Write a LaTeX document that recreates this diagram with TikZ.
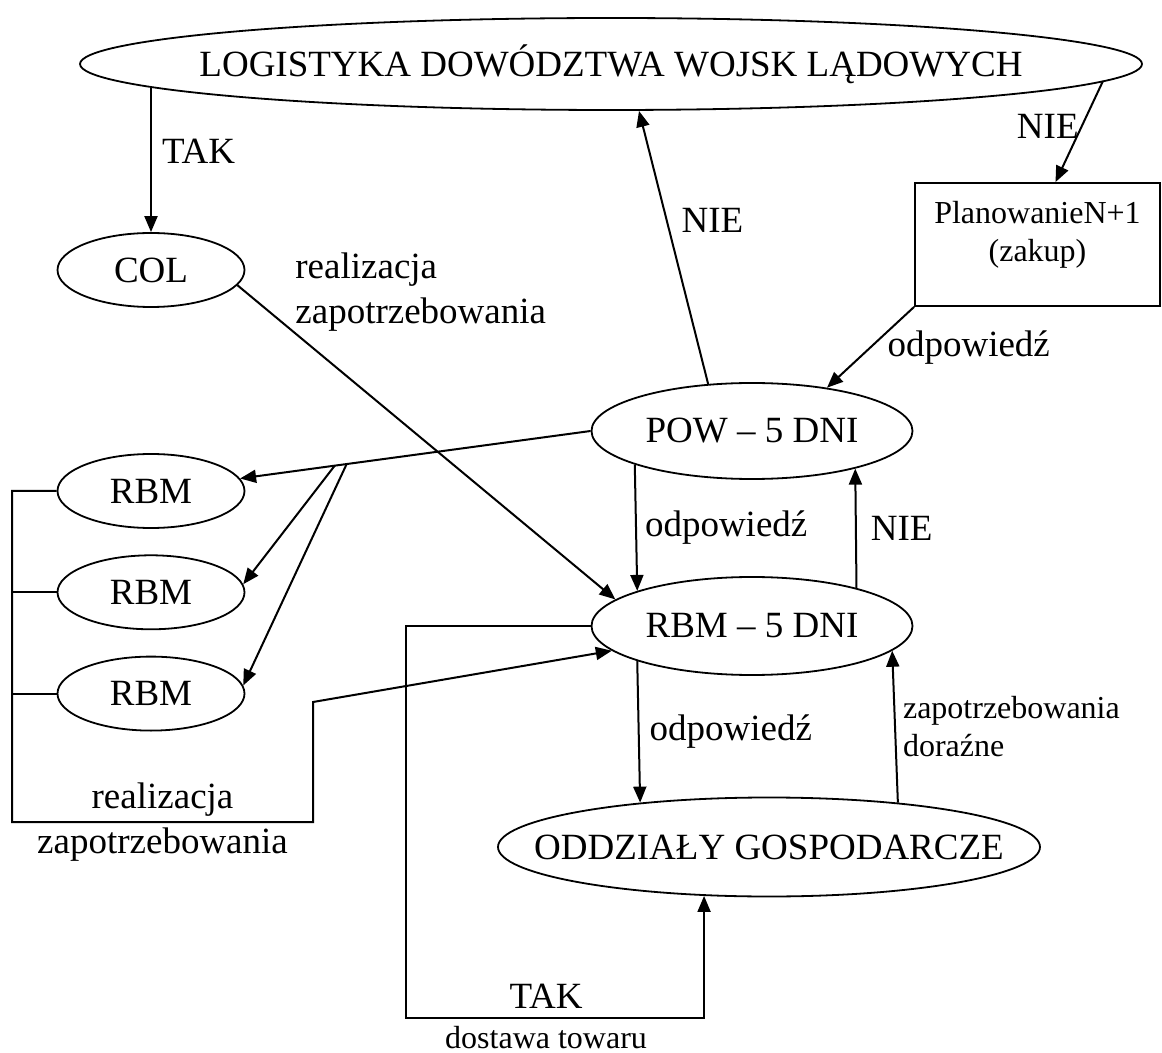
\documentclass[tikz,border=0pt]{standalone}
\usepackage{fontspec}
\setmainfont{Liberation Serif}
\usepackage{tikz}
\usetikzlibrary{arrows.meta,shapes.geometric,positioning,calc}
\newcommand\bigtxt{\fontsize{18.5}{22.5}\selectfont}
\newcommand\smalltxt{\fontsize{16}{19}\selectfont}
\tikzset{
  fl ellipse/.style={
    ellipse,
    draw,
    line width=0.9pt,
    inner sep=0pt,
    minimum width=93.5pt,
    minimum height=37pt,
    font=\bigtxt,
  },
  fl wide/.style={fl ellipse, inner xsep=-30pt},
  fl box/.style={
    rectangle,
    draw,
    line width=0.9pt,
    inner sep=0pt,
    minimum width=122.5pt,
    minimum height=61.5pt,
  },
  fl arrow/.style={-{Triangle[length=8pt,width=6.5pt]}, line width=1pt},
  fl line/.style={line width=1pt},
  fl text/.style={font=\bigtxt, inner sep=0pt},
  fl note/.style={font=\smalltxt, inner sep=0pt},
}

\begin{document}
\begin{tikzpicture}[x=0.5pt, y=-0.5pt]
  \useasboundingbox (0,0) rectangle (1162,1053);

  \node[fl wide, minimum width=531pt, minimum height=46pt] (top) at (611,64) {LOGISTYKA DOWÓDZTWA WOJSK LĄDOWYCH};
  \node[fl ellipse] (col) at (151,270) {COL};
  \node[fl ellipse] (rbmA) at (151,491) {RBM};
  \node[fl ellipse, below=12.75pt of rbmA] (rbmB) {RBM};
  \node[fl ellipse, below=12.75pt of rbmB] (rbmC) {RBM};
  \node[fl ellipse, minimum width=160.5pt, minimum height=48pt] (pow) at (752,431) {POW – 5 DNI};
  \node[fl ellipse, minimum width=160.5pt, minimum height=49pt] (rbm5) at (752,626) {RBM – 5 DNI};
  \node[fl wide, minimum width=271pt, minimum height=49.5pt] (oddz) at (769,847) {ODDZIAŁY GOSPODARCZE};
  \node[fl box, label={[fl note, align=center, yshift=5pt]center:PlanowanieN+1\\(zakup)}] (plan) at (1037.5,244.5) {};

  \coordinate (busL) at (12,822);
  \coordinate (busK) at (313,702);
  \coordinate (loopc) at (406,1018);
  % points on the rim of the wide top ellipse
  \coordinate (topL) at ($(top.center)+(-460,23)$);
  \coordinate (topR) at ($(top.center)+(492,17)$);

  % from the top
  \draw[fl arrow] (topL) -- node[fl text, pos=0.44, right=5pt] {TAK} (col.north);
  \draw[fl arrow] (topR) -- node[fl text, pos=0.45, left=1pt] {NIE} ([xshift=9pt]plan.north);
  \draw[fl arrow] (pow.133.7) -- node[fl text, pos=0.6, right=7pt] {NIE} ([xshift=14pt]top.south);
  \draw[fl arrow] (plan.south west) -- node[fl text, midway, right=8pt] {odpowiedź} (pow.30.5);

  % POW to the RBM
  \draw[fl arrow] (pow.west) -- (rbmA.8);
  \coordinate (j1) at ($(pow.west)!0.73!(rbmA.8)$);
  \coordinate (j2) at ($(pow.west)!0.696!(rbmA.8)$);
  \draw[fl arrow] (j1) -- (rbmB.5);
  \draw[fl arrow] (j2) -- (rbmC.5);

  \draw[fl arrow] (col.-10) -- (rbm5.169.5);
  \node[fl text, anchor=west, align=left] (colnote) at (295,292.5) {realizacja\\zapotrzebowania};

  \draw[fl arrow] (pow.196.5) -- node[fl text, right=4pt] {odpowiedź} (rbm5.163.2);
  \draw[fl arrow] (rbm5.20.7) -- node[fl text, right=7pt] {NIE} (pow.-20.3);

  % RBM-5 and the units
  \draw[fl arrow] (rbm5.197) -- node[fl text, right=5pt] {odpowiedź} (oddz.161.5);
  \draw[fl arrow] (oddz.19.9) -- node[fl note, right=3.5pt, align=left] {zapotrzebowania\\doraźne} (rbm5.-10);
  \draw[fl arrow] (rbm5.west) -| (loopc) -| node[fl text, pos=0.235, above=4.4pt] {TAK}
    node[fl note, pos=0.235, below=3.5pt] {dostawa towaru} (oddz.217.4);

  % RBM group back to RBM-5
  \draw[fl line] (rbmB.west) -- (rbmB.west -| busL);
  \draw[fl line] (rbmC.west) -- (rbmC.west -| busL);
  \draw[fl arrow] (rbmA.west) -| (busL) -| node[fl text, pos=0.25, align=center] {realizacja\\zapotrzebowania} (busK) -- (rbm5.190);
\end{tikzpicture}
\end{document}
